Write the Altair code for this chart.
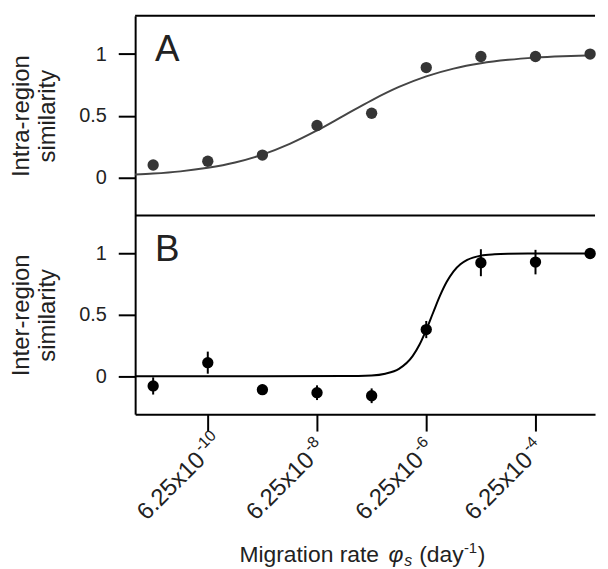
import altair as alt
import pandas as pd

# ---------------- data ----------------
# migration rate = 6.25 x 10^exponent (day^-1)
exponents = [-11, -10, -9, -8, -7, -6, -5, -4, -3]
intra_sim = [0.10, 0.13, 0.18, 0.42, 0.52, 0.89, 0.98, 0.98, 1.00]
inter_sim = [-0.08, 0.11, -0.11, -0.135, -0.16, 0.38, 0.925, 0.93, 1.00]
inter_err = [0.07, 0.09, 0.04, 0.06, 0.06, 0.07, 0.11, 0.10, 0.0]

# fitted curves
fitA_exp = [-11.33, -11, -10.5, -10, -9.5, -9, -8.5, -8, -7.5, -7, -6.5, -6,
            -5.5, -5, -4.5, -4, -3.5, -3, -2.91]
fitA_val = [0.022, 0.030, 0.048, 0.077, 0.120, 0.184, 0.271, 0.380, 0.503, 0.625,
            0.733, 0.819, 0.882, 0.925, 0.953, 0.971, 0.982, 0.989, 0.990]
fitB_exp = [-11.33, -9, -7.5, -7, -6.75, -6.5, -6.25, -6.125, -6, -5.875, -5.75,
            -5.625, -5.5, -5.375, -5.25, -5, -4.75, -4.5, -4, -3, -2.91]
fitB_val = [0, 0, 0.001, 0.006, 0.020, 0.059, 0.163, 0.256, 0.378, 0.517, 0.654,
            0.769, 0.855, 0.912, 0.948, 0.983, 0.994, 0.998, 1.0, 1.0, 1.0]

tick_exps = [-10, -8, -6, -4]
tick_base = ["6.25x10", "6.25x10", "6.25x10", "6.25x10"]
tick_sup = ["-10", "-8", "-6", "-4"]
y_ticks = [0, 0.5, 1]
panel_letters = ["A", "B"]
y_titles = [["Intra-region", "similarity"], ["Inter-region", "similarity"]]
# x title: "Migration rate φ_s (day^-1)"
x_title_parts = ["Migration rate", "\u03c6", "s", "(day", "-1", ")"]

# ---------------- tables ----------------
ptsA = pd.DataFrame({"e": exponents, "v": intra_sim})
ptsB = pd.DataFrame({"e": exponents, "v": inter_sim, "err": inter_err})
ptsB["lo"] = ptsB["v"] - ptsB["err"]
ptsB["hi"] = ptsB["v"] + ptsB["err"]
fitA = pd.DataFrame({"e": fitA_exp, "v": fitA_val})
fitB = pd.DataFrame({"e": fitB_exp, "v": fitB_val})
ticks_df = pd.DataFrame({"e": tick_exps, "base": tick_base, "sup": tick_sup})

FONT = "Liberation Sans"
INK = "#222222"
W = 463                    # keeps the page inside the 592px-wide body
HA = 201
HB = 200
LABEL_Y = HB + 46          # baseline end of the rotated tick labels
TITLE_Y = HB + 149         # baseline of the x title

xscale = alt.Scale(domain=[-11.33, -2.91], nice=False, zero=False)
yscale = alt.Scale(domain=[-0.31, 1.31], nice=False, zero=False)


def yaxis(title):
    return alt.Axis(values=y_ticks, format="~g", title=title, tickSize=17,
                    tickWidth=2, tickColor="black", domainWidth=2,
                    domainColor="black", labelFontSize=20, labelPadding=12,
                    labelColor=INK, labelFont=FONT, titleFont=FONT,
                    titleFontSize=24, titleFontWeight="normal",
                    titleLineHeight=27, titlePadding=19, titleColor=INK,
                    grid=False)


xaxisB = alt.Axis(values=tick_exps, labels=False, title="",
                  tickSize=17, tickWidth=2, tickColor="black",
                  domainWidth=2, domainColor="black", grid=False)


def letter(i, ypix):
    return alt.Chart(pd.DataFrame({"t": [panel_letters[i]]})).mark_text(
        fontSize=37, font=FONT, align="left", baseline="alphabetic", color=INK
    ).encode(x=alt.value(20), y=alt.value(ypix), text="t:N")


def hrule(ypix):
    return alt.Chart(pd.DataFrame({"k": [0]})).mark_rule(
        color="black", strokeWidth=2
    ).encode(x=alt.value(0), x2=alt.value(W), y=alt.value(ypix))


def title_piece(i, xpix, ypix, size, style="normal"):
    return alt.Chart(pd.DataFrame({"t": [x_title_parts[i]]})).mark_text(
        fontSize=size, font=FONT, fontStyle=style, align="left",
        baseline="alphabetic", color=INK
    ).encode(x=alt.value(xpix), y=alt.value(ypix), text="t:N")


# ---------------- panel A ----------------
curveA = alt.Chart(fitA).mark_line(color="#454545", strokeWidth=2,
                                   interpolate="monotone").encode(
    x=alt.X("e:Q", scale=xscale, axis=None),
    y=alt.Y("v:Q", scale=yscale, axis=yaxis(y_titles[0])),
)
pointsA = alt.Chart(ptsA).mark_circle(size=130, opacity=1, color="#353535").encode(
    x=alt.X("e:Q", scale=xscale, axis=None),
    y=alt.Y("v:Q", scale=yscale),
)
panelA = alt.layer(hrule(0), hrule(HA), curveA, pointsA, letter(0, 45)).properties(
    width=W, height=HA)

# ---------------- panel B ----------------
curveB = alt.Chart(fitB).mark_line(color="black", strokeWidth=2,
                                   interpolate="monotone").encode(
    x=alt.X("e:Q", scale=xscale, axis=xaxisB),
    y=alt.Y("v:Q", scale=yscale, axis=yaxis(y_titles[1])),
)
errB = alt.Chart(ptsB).mark_rule(color="black", strokeWidth=2).encode(
    x=alt.X("e:Q", scale=xscale),
    y=alt.Y("lo:Q", scale=yscale),
    y2="hi:Q",
)
pointsB = alt.Chart(ptsB).mark_circle(size=130, opacity=1, color="black").encode(
    x=alt.X("e:Q", scale=xscale),
    y=alt.Y("v:Q", scale=yscale),
)
tick_main = alt.Chart(ticks_df).mark_text(
    angle=315, align="right", baseline="alphabetic", fontSize=24, font=FONT,
    color=INK, dx=-2
).encode(x=alt.X("e:Q", scale=xscale), y=alt.value(LABEL_Y), text="base:N")
tick_super = alt.Chart(ticks_df).mark_text(
    angle=315, align="left", baseline="alphabetic", fontSize=16, font=FONT,
    color=INK, dx=0, dy=-10
).encode(x=alt.X("e:Q", scale=xscale), y=alt.value(LABEL_Y), text="sup:N")

x_title = [
    title_piece(0, 105, TITLE_Y, 23),
    title_piece(1, 255, TITLE_Y, 23, "italic"),
    title_piece(2, 271, TITLE_Y + 4, 16, "italic"),
    title_piece(3, 286, TITLE_Y, 23),
    title_piece(4, 331, TITLE_Y - 9, 15),
    title_piece(5, 345, TITLE_Y, 23),
]

panelB = alt.layer(curveB, errB, pointsB, letter(1, 46), tick_main,
                   tick_super, *x_title).properties(width=W, height=HB)

chart = alt.vconcat(panelA, panelB, spacing=0, bounds="flush").properties(
    padding={"left": 0, "top": 4, "right": 0, "bottom": 0},
    background="white",
).configure_view(stroke="transparent")

chart.save("out.html", embed_options={"renderer": "svg", "actions": False})
